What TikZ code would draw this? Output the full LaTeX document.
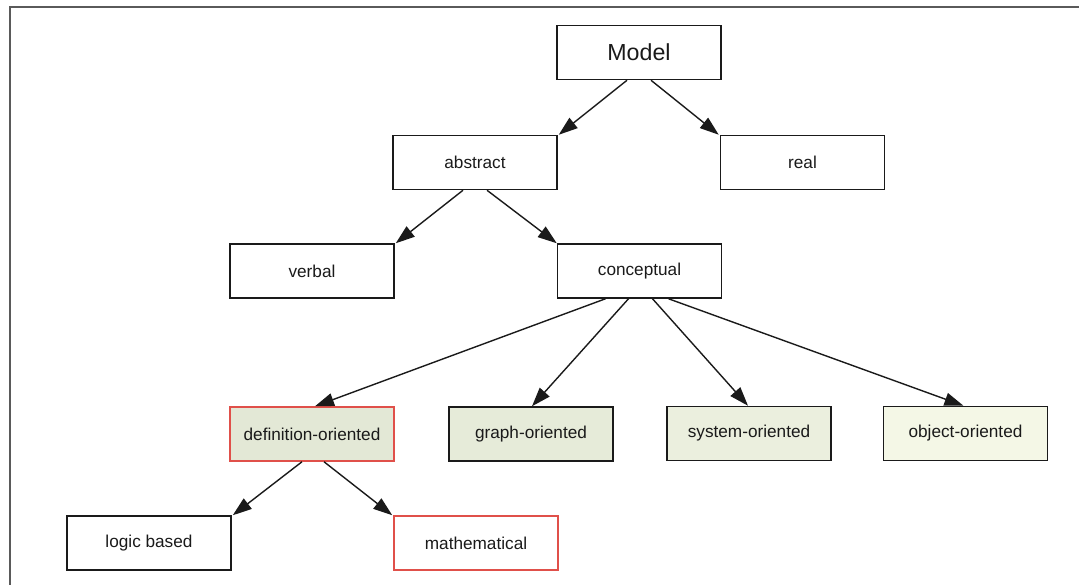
\documentclass[tikz,border=0pt]{standalone}
\usepackage{fontspec}
\setmainfont{Liberation Sans}
\usetikzlibrary{arrows.meta}
\definecolor{framegray}{HTML}{5A5A5A}
\definecolor{redline}{HTML}{E0504A}
\definecolor{fillA}{HTML}{E3E8D6}
\definecolor{fillB}{HTML}{E6EBD9}
\definecolor{fillC}{HTML}{EBEFDE}
\definecolor{fillD}{HTML}{F4F7E6}
\definecolor{inkc}{HTML}{1A1A1A}
\tikzset{
  box/.style={draw=inkc, line width=1.5pt, rectangle, minimum width=164pt, minimum height=54pt, inner sep=0pt, font=\fontsize{17.2}{20}\selectfont, text=inkc},
  redbox/.style={box, draw=redline},
  arr/.style={draw=inkc, line width=1.4pt, -{Triangle[length=19pt,width=13pt]}},
}
\begin{document}
\begin{tikzpicture}[x=1pt,y=-1pt]
\useasboundingbox (0,0) rectangle (1079,584);
\draw[framegray, line width=1.3pt] (10,590) -- (10,7) -- (1085,7);

\node[box, font=\fontsize{23.2}{27}\selectfont] (model) at (639,52.5) {Model};
\node[box] (abstract) at (475,162.5) {abstract};
\node[box] (real) at (802.5,162.5) {real};
\node[box] (verbal) at (312,271) {verbal};
\node[box] (conceptual) at (639.5,271) {conceptual};
\node[redbox, fill=fillA] (defor) at (312,434) {definition-oriented};
\node[box, fill=fillB] (graphor) at (531,434) {graph-oriented};
\node[box, fill=fillC] (systemor) at (749,433.5) {system-oriented};
\node[box, fill=fillD] (objector) at (965.5,433.5) {object-oriented};
\node[box] (logic) at (149,543) {logic based};
\node[redbox] (math) at (476,543) {mathematical};

\draw[arr] ([xshift=-12pt]model.south) -- ([xshift=1pt]abstract.north east);
\draw[arr] ([xshift=12pt]model.south) -- ([xshift=-1pt]real.north west);
\draw[arr] ([xshift=-12pt]abstract.south) -- ([xshift=1pt]verbal.north east);
\draw[arr] ([xshift=12pt]abstract.south) -- ([xshift=0pt]conceptual.north west);
\draw[arr] ([xshift=-34pt]conceptual.south) -- ([xshift=3pt]defor.north);
\draw[arr] ([xshift=-11pt]conceptual.south) -- ([xshift=1pt]graphor.north);
\draw[arr] ([xshift=13pt]conceptual.south) -- ([xshift=-1pt]systemor.north);
\draw[arr] ([xshift=29pt]conceptual.south) -- ([xshift=-2pt]objector.north);
\draw[arr] ([xshift=-10pt]defor.south) -- ([xshift=1pt]logic.north east);
\draw[arr] ([xshift=12pt]defor.south) -- ([xshift=-1pt]math.north west);
\end{tikzpicture}
\end{document}
